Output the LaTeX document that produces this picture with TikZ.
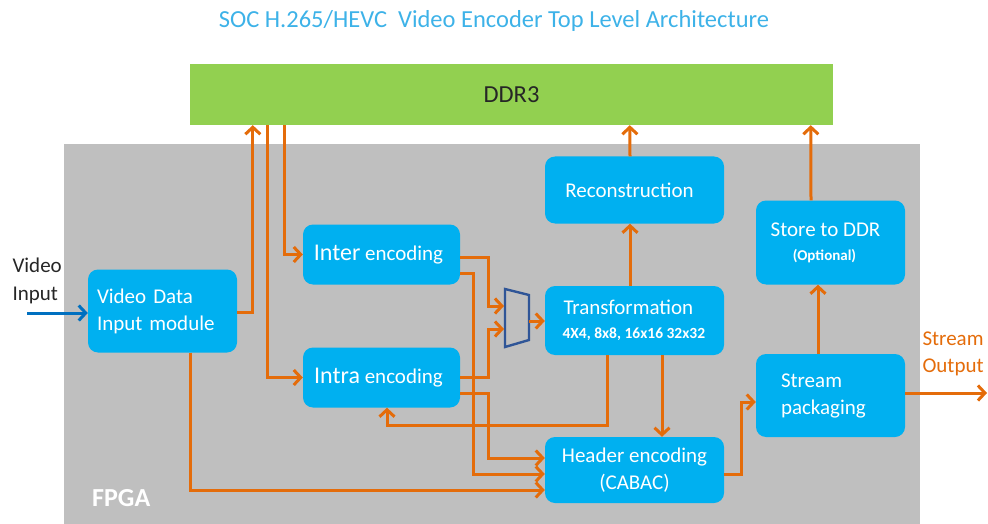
\documentclass[tikz,border=0pt]{standalone}
\usepackage{fontspec}
\setmainfont{Carlito}
\usetikzlibrary{arrows.meta,calc}
\definecolor{boxblue}{HTML}{00B0F0}
\definecolor{orng}{HTML}{E46C0A}
\definecolor{ddrgreen}{HTML}{92D050}
\definecolor{fpgagray}{HTML}{BFBFBF}
\definecolor{titleblue}{HTML}{3DB2E8}
\definecolor{muxblue}{HTML}{2F5597}
\definecolor{inblue}{HTML}{0070C0}
\definecolor{txtgray}{HTML}{262626}
\tikzset{
  blk/.style={rounded corners=10pt, fill=boxblue, text=white, inner sep=0pt, font=\fontsize{21}{27}\selectfont},
  arr/.style={draw=orng, line width=3pt, -{Straight Barb[length=7pt,width=15pt]}},
}
\begin{document}
\begin{tikzpicture}[x=1pt,y=-1pt]
\useasboundingbox (0,0) rectangle (988,524);
% title
\node[text=titleblue, font=\fontsize{24.5}{28}\selectfont] (title) at (494,21) {SOC H.265/HEVC\ \ Video Encoder Top Level Architecture};
% DDR3
\node[fill=ddrgreen, minimum width=643pt, minimum height=61pt, inner sep=0pt, text=txtgray, font=\fontsize{24.5}{28}\selectfont] (ddr) at (511.5,94.5) {DDR3};
% FPGA region
\node[fill=fpgagray, minimum width=856pt, minimum height=380pt, inner sep=0pt, anchor=north west] (fpga) at (64,144) {};
\node[text=white, font=\fontsize{26}{30}\selectfont\bfseries, anchor=west, inner sep=0pt] (fpgalbl) at (92,498) {FPGA};
% boxes
\node[blk, minimum width=149pt, minimum height=83pt, text width=131pt, align=left] (vdi) at (162.5,311) {Video Data\\Input module};
\node[blk, minimum width=157pt, minimum height=60pt] (inter) at (381.5,254.5) {\hspace*{-6pt}{\fontsize{24}{27}\selectfont Inter} encoding};
\node[blk, minimum width=157pt, minimum height=60pt] (intra) at (381.5,377.5) {\hspace*{-6pt}{\fontsize{24}{27}\selectfont Intra} encoding};
\node[blk, minimum width=179pt, minimum height=67pt] (rec) at (634.5,190) {\hspace*{-10pt}Reconstruction};
\node[blk, minimum width=179pt, minimum height=69pt, text width=148pt, align=left] (trans) at (634.5,320.5) {\hspace*{3pt}Transformation\\[-3pt]{\fontsize{15.5}{18}\selectfont\bfseries\mbox{\hspace*{2pt}4X4,\hspace{3.5pt}8x8,\hspace{3.5pt}16x16\hspace{3.5pt}32x32}}};
\node[blk, minimum width=179pt, minimum height=66pt, align=center] (hdr) at (634.5,470) {Header encoding\\(CABAC)};
\node[blk, minimum width=149pt, minimum height=84pt, align=center] (store) at (830.5,242.5) {\hspace*{-10pt}Store to DDR\\[-3pt]{\fontsize{15}{18}\selectfont\bfseries\hspace*{-12pt}(Optional)}};
\node[blk, minimum width=149pt, minimum height=83pt, text width=125pt, align=left] (stream) at (830.5,395.5) {\hspace*{13pt}Stream\\\hspace*{13pt}packaging};
% external labels
\node[text=txtgray, font=\fontsize{21}{28}\selectfont, align=left, anchor=west] (vinlbl) at (9,281) {Video\\Input};
\node[text=orng, font=\fontsize{21}{27}\selectfont, align=left, anchor=west] (soutlbl) at (919,354) {Stream\\Output};
% mux
\draw[muxblue, line width=2.4pt] (505,289) -- (529,295) -- (529,340) -- (505,347) -- cycle;
\coordinate (muxin1) at (504,306);
\coordinate (muxin2) at (504,329);
\coordinate (muxout) at (529,321);
\coordinate (vin) at (27,313);
\coordinate (sout) at (987,393);
% connectors
\draw[draw=inblue, line width=3pt, -{Straight Barb[length=7pt,width=15pt]}] (vin) -- ([yshift=-2pt]vdi.west);
\draw[arr] ([yshift=-1pt]vdi.east) -| ([xshift=63pt]ddr.south west);
\draw[arr] ([xshift=95pt]ddr.south west) |- (inter.west);
\draw[arr] ([xshift=78pt]ddr.south west) |- (intra.west);
\draw[arr] ([xshift=27.5pt]vdi.south) |- ([yshift=-20pt]hdr.west);
\draw[arr] ([yshift=-2.5pt]inter.east) -- ++(28.5,0) |- (muxin1);
\draw[arr] ([yshift=-18.5pt]inter.east) -- ++(13,0) |- ([yshift=-4pt]hdr.west);
\draw[arr] (intra.east) -- ++(28.5,0) |- (muxin2);
\draw[arr] ([yshift=-15.5pt]intra.east) -- ++(28.5,0) |- ([yshift=12pt]hdr.west);
\draw[arr] (muxout) -- (trans.west |- muxout);
\draw[arr] ([xshift=-4.5pt]trans.north) -- ([xshift=-4.5pt]rec.south);
\draw[arr] ([xshift=-4.5pt]rec.north) -- ([xshift=440pt]ddr.south west);
\draw[arr] ([xshift=27.5pt]trans.south) -- ([xshift=27.5pt]hdr.north);
\draw[arr] ([xshift=-27.5pt]trans.south) -- ++(0,70) -| ([xshift=5.5pt]intra.south);
\draw[arr] ([yshift=-4pt]hdr.east) -- ++(17,0) |- ([yshift=-6.5pt]stream.west);
\draw[arr] ([xshift=-12.5pt]stream.north) -- ([xshift=-12.5pt]store.south);
\draw[arr] ([xshift=-19.5pt]store.north) -- ([xshift=621pt]ddr.south west);
\draw[arr] ([yshift=2.5pt]stream.east) -- (sout);
\end{tikzpicture}
\end{document}
